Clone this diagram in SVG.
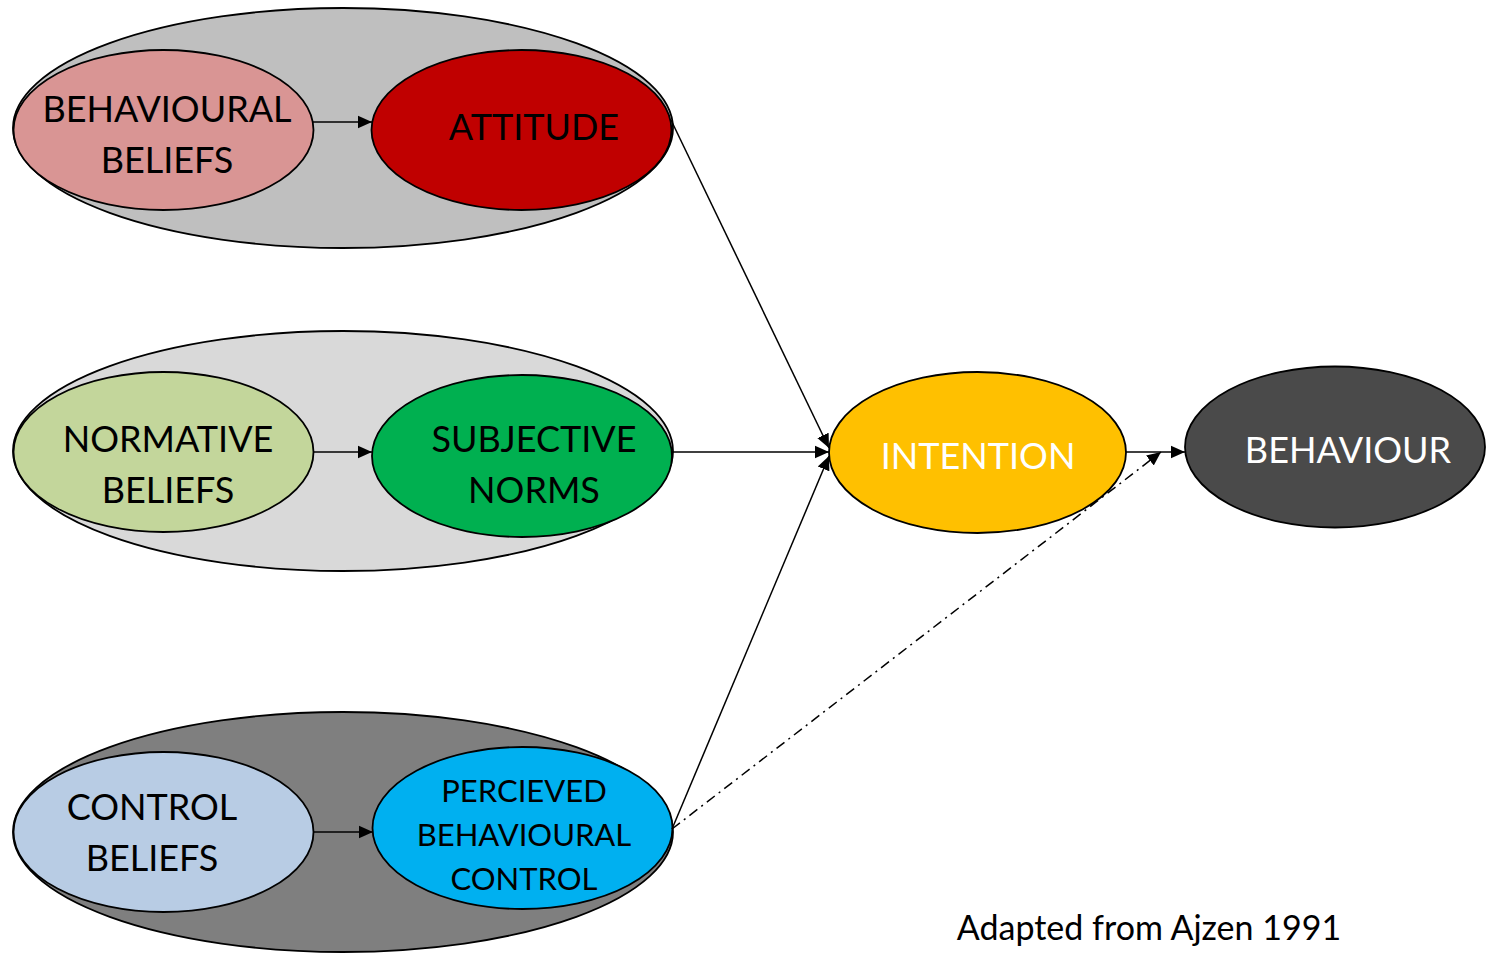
<svg xmlns="http://www.w3.org/2000/svg" width="1490" height="956" viewBox="0 0 1490 956">
<defs>
<marker id="ah" viewBox="0 0 10 10" refX="10" refY="5" markerWidth="14" markerHeight="14" markerUnits="userSpaceOnUse" orient="auto"><path d="M0,0.5 L10,5 L0,9.5 z" fill="#000"/></marker>
</defs>
<style>
ellipse{stroke:#000;stroke-width:1.8}
text{font-family:Lato,"Open Sans","Liberation Sans",sans-serif;font-size:36px;text-anchor:middle;fill:#000}
.w{fill:#fff}
.c{stroke:#000;stroke-width:1.5;fill:none}
</style>
<rect width="1490" height="956" fill="#fff"/>
<g id="group-attitude">
<ellipse cx="343" cy="128" rx="330" ry="120" fill="#bfbfbf"/>
</g>
<g id="group-norms">
<ellipse cx="343" cy="451" rx="330" ry="120" fill="#d9d9d9"/>
</g>
<g id="group-control">
<ellipse cx="343" cy="832" rx="330" ry="120" fill="#7f7f7f"/>
</g>
<g id="behavioural-beliefs">
<ellipse cx="163.5" cy="130" rx="150" ry="80" fill="#d99594"/>
<text x="167" y="122">BEHAVIOURAL</text>
<text x="167" y="173">BELIEFS</text>
</g>
<g id="attitude">
<ellipse cx="521.5" cy="130" rx="150" ry="80" fill="#c00000"/>
<text x="534" y="140">ATTITUDE</text>
</g>
<g id="normative-beliefs">
<ellipse cx="163.5" cy="452" rx="150" ry="80" fill="#c3d69b"/>
<text x="168" y="452">NORMATIVE</text>
<text x="168" y="503">BELIEFS</text>
</g>
<g id="subjective-norms">
<ellipse cx="522" cy="456" rx="150" ry="81" fill="#00b050"/>
<text x="534" y="452">SUBJECTIVE</text>
<text x="534" y="503">NORMS</text>
</g>
<g id="control-beliefs">
<ellipse cx="163.5" cy="832" rx="150" ry="80" fill="#b8cce4"/>
<text x="152" y="820">CONTROL</text>
<text x="152" y="871">BELIEFS</text>
</g>
<g id="perceived-control">
<ellipse cx="522.5" cy="828" rx="150" ry="81" fill="#00b0f0"/>
<text x="524" y="802" style="font-size:31px">PERCIEVED</text>
<text x="524" y="846" style="font-size:31px">BEHAVIOURAL</text>
<text x="524" y="890" style="font-size:31px">CONTROL</text>
</g>
<g id="intention">
<ellipse cx="977.5" cy="452.5" rx="148.5" ry="80.5" fill="#ffc000"/>
<text class="w" x="978" y="469">INTENTION</text>
</g>
<g id="behaviour">
<ellipse cx="1335" cy="447" rx="150" ry="80.5" fill="#4a4a4a"/>
<text class="w" x="1348" y="463">BEHAVIOUR</text>
</g>
<g id="connectors">
<line class="c" x1="313" y1="122" x2="372" y2="122" marker-end="url(#ah)"/>
<line class="c" x1="313" y1="452" x2="372" y2="452" marker-end="url(#ah)"/>
<line class="c" x1="313" y1="832" x2="373" y2="832" marker-end="url(#ah)"/>
<line class="c" x1="671" y1="120" x2="829" y2="448" marker-end="url(#ah)"/>
<line class="c" x1="672" y1="452" x2="829" y2="452" marker-end="url(#ah)"/>
<line class="c" x1="672" y1="829" x2="829" y2="456" marker-end="url(#ah)"/>
<line class="c" x1="1126" y1="452" x2="1185" y2="452" marker-end="url(#ah)"/>
<line class="c" x1="672" y1="829" x2="1161" y2="452" marker-end="url(#ah)" style="stroke-dasharray:10 5 2 5"/>
</g>
<text x="1149" y="940" style="font-size:34px">Adapted from Ajzen 1991</text>
</svg>
